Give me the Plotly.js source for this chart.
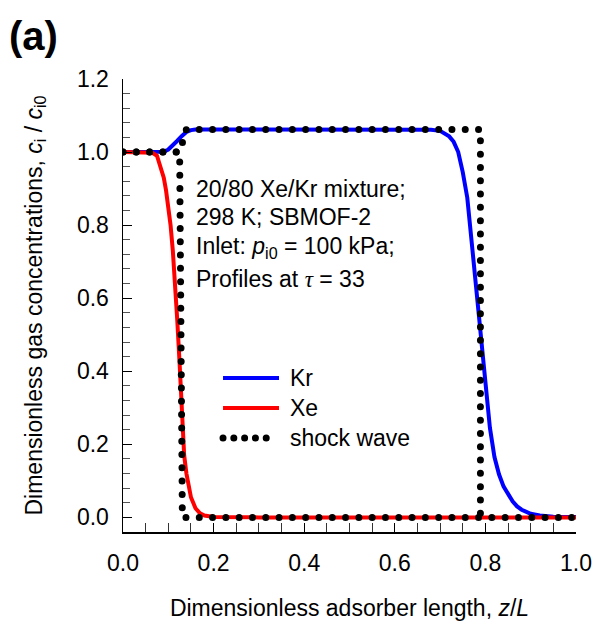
<!DOCTYPE html>
<html><head><meta charset="utf-8">
<script src="https://cdn.plot.ly/plotly-3.0.1.min.js"></script>
<style>html,body{margin:0;padding:0;background:#fff;} #chart{width:596px;height:621px;}</style>
</head><body><div id="chart"></div>
<script>
// ---- data ----
const krX = [0, 0.05, 0.08, 0.09, 0.10, 0.11, 0.12, 0.13, 0.14, 0.15, 0.16, 0.20, 0.30, 0.40, 0.50, 0.60, 0.65, 0.68, 0.70, 0.71, 0.72, 0.73, 0.74, 0.75, 0.76, 0.77, 0.78, 0.79, 0.80, 0.81, 0.82, 0.83, 0.84, 0.85, 0.86, 0.87, 0.88, 0.90, 0.92, 0.95, 1.00];
const krY = [1.0, 1.0, 1.0, 1.001, 1.007, 1.018, 1.031, 1.044, 1.055, 1.060, 1.062, 1.062, 1.062, 1.062, 1.062, 1.062, 1.062, 1.061, 1.058, 1.052, 1.043, 1.028, 1.000, 0.945, 0.875, 0.75, 0.62, 0.49, 0.355, 0.245, 0.165, 0.118, 0.085, 0.062, 0.044, 0.030, 0.021, 0.010, 0.005, 0.002, 0.001];

const xeX = [0, 0.05, 0.065, 0.075, 0.085, 0.09, 0.095, 0.10, 0.105, 0.11, 0.115, 0.12, 0.125, 0.13, 0.135, 0.14, 0.145, 0.15, 0.16, 0.17, 0.18, 0.19, 0.20, 0.30, 1.00];
const xeY = [1.0, 1.0, 0.998, 0.99, 0.955, 0.93, 0.895, 0.85, 0.80, 0.73, 0.64, 0.535, 0.42, 0.27, 0.17, 0.12, 0.08, 0.055, 0.025, 0.011, 0.005, 0.002, 0.001, 0, 0];

const shockKrX = [0, 0.125, 0.14, 0.789, 0.789];
const shockKrY = [1.0, 1.0, 1.062, 1.062, 0];
const shockXeX = [0, 0.125, 0.131, 1.0];
const shockXeY = [1.0, 1.0, 0, 0];

const yMinorTicks = [0.04, 0.08, 0.12, 0.16, 0.24, 0.28, 0.32, 0.36, 0.44, 0.48, 0.52, 0.56, 0.64, 0.68, 0.72, 0.76, 0.84, 0.88, 0.92, 0.96, 1.04, 1.08, 1.12, 1.16];
const xMinorTicks = [0.05, 0.10, 0.15, 0.25, 0.30, 0.35, 0.45, 0.50, 0.55, 0.65, 0.70, 0.75, 0.85, 0.90, 0.95];

const seriesNames = ['Kr', 'Xe', 'shock wave'];
const noteLines = ['20/80 Xe/Kr mixture;', '298 K; SBMOF-2', 'Inlet: <i>p</i><sub>i0</sub> = 100 kPa;', 'Profiles at <span style="font-family:\'Liberation Serif\'"><i>τ</i></span> = 33'];
const xTitle = 'Dimensionless adsorber length, <i>z</i>/<i>L</i>';
const yTitle = 'Dimensionless gas concentrations, <i>c</i><sub>i</sub> / <i>c</i><sub>i0</sub>';
const panelLabel = '<b>(a)</b>';

// ---- styles ----
const FONT = 'Liberation Sans, Arial, sans-serif';
const colors = ['#0000ff', '#ff0000', '#000000'];
const DOT_PLOT = '0px,13.3px';
const DOT_LEG = '0px,10.8px';

const traces = [
  {x: krX, y: krY, mode: 'lines', name: seriesNames[0], line: {color: colors[0], width: 4}, cliponaxis: false},
  {x: xeX, y: xeY, mode: 'lines', name: seriesNames[1], line: {color: colors[1], width: 4}, cliponaxis: false},
  {x: shockKrX, y: shockKrY, mode: 'lines', name: seriesNames[2], line: {color: colors[2], width: 7, dash: DOT_PLOT}, cliponaxis: false},
  {x: shockXeX, y: shockXeY, mode: 'lines', name: seriesNames[2], showlegend: false, line: {color: colors[2], width: 7, dash: DOT_PLOT}, cliponaxis: false}
];

// legend drawn by hand (long sample lines like the reference)
const legX0 = 0.2208, legX1 = 0.3444, legTextX = 0.3642;
const legY = [0.340, 0.2737, 0.2075];
const shapes = seriesNames.map((n, i) => ({
  type: 'line', xref: 'paper', yref: 'paper', x0: legX0, x1: i === 2 ? 0.3400 : legX1, y0: legY[i], y1: legY[i],
  line: {color: colors[i], width: i === 2 ? 7 : 4, dash: i === 2 ? DOT_LEG : 'solid'}
}));
const annotations = seriesNames.map((n, i) => ({
  text: n, xref: 'paper', yref: 'paper', x: legTextX, y: legY[i], xanchor: 'left', yanchor: 'middle', showarrow: false,
  font: {family: FONT, size: 23, color: '#000'}
}));
const noteY = [0.7578, 0.6954, 0.628, 0.5578];
noteLines.forEach((t, i) => annotations.push({
  text: t, xref: 'paper', yref: 'paper', x: 0.1567, y: noteY[i], xanchor: 'left', yanchor: 'middle', showarrow: false,
  font: {family: FONT, size: 23, color: '#000'}
}));
annotations.push({text: panelLabel, xref: 'paper', yref: 'paper', x: -0.2560, y: 1.0960, xanchor: 'left', yanchor: 'middle', showarrow: false, font: {family: FONT, size: 40, color: '#000'}});

const axisCommon = {
  showline: true, linecolor: '#000', linewidth: 1.5, showgrid: false, zeroline: false,
  ticks: 'inside', tickwidth: 1, tickcolor: '#000', tickformat: '.1f',
  tickfont: {family: FONT, size: 23, color: '#000'}
};

const layout = {
  width: 596, height: 621,
  margin: {l: 123, r: 20, t: 79, b: 89, pad: 0},
  paper_bgcolor: '#fff', plot_bgcolor: '#fff',
  showlegend: false,
  font: {family: FONT, size: 23, color: '#000'},
  xaxis: Object.assign({}, axisCommon, {
    range: [0, 1], tick0: 0, dtick: 0.2, ticklen: 9, ticklabelstandoff: 10,
    minor: {tickmode: 'array', tickvals: xMinorTicks, ticks: 'inside', ticklen: 9, tickwidth: 1, tickcolor: '#333', showgrid: false},
    title: {text: xTitle, font: {family: FONT, size: 23, color: '#000'}, standoff: 32}
  }),
  yaxis: Object.assign({}, axisCommon, {
    range: [-0.04, 1.2], tick0: 0, dtick: 0.2, ticklen: 9, ticklabelstandoff: 8,
    minor: {tickmode: 'array', tickvals: yMinorTicks, ticks: 'inside', ticklen: 7, tickwidth: 1, tickcolor: '#555', showgrid: false},
    title: {text: yTitle, font: {family: FONT, size: 23, color: '#000'}, standoff: 28}
  }),
  shapes: shapes,
  annotations: annotations
};

function roundDots() {
  document.querySelectorAll('#chart .scatterlayer .trace').forEach((tr, i) => {
    if (i >= 2) tr.querySelectorAll('path.js-line').forEach(p => p.style.strokeLinecap = 'round');
  });
  document.querySelectorAll('#chart .shapelayer path').forEach(p => {
    if ((p.style.strokeDasharray || '').indexOf('10.8') >= 0) p.style.strokeLinecap = 'round';
  });
}

const gd = document.getElementById('chart');
Plotly.newPlot(gd, traces, layout, {displayModeBar: false, staticPlot: true}).then(() => {
  roundDots();
  gd.on('plotly_afterplot', roundDots);
});
</script>
</body></html>
